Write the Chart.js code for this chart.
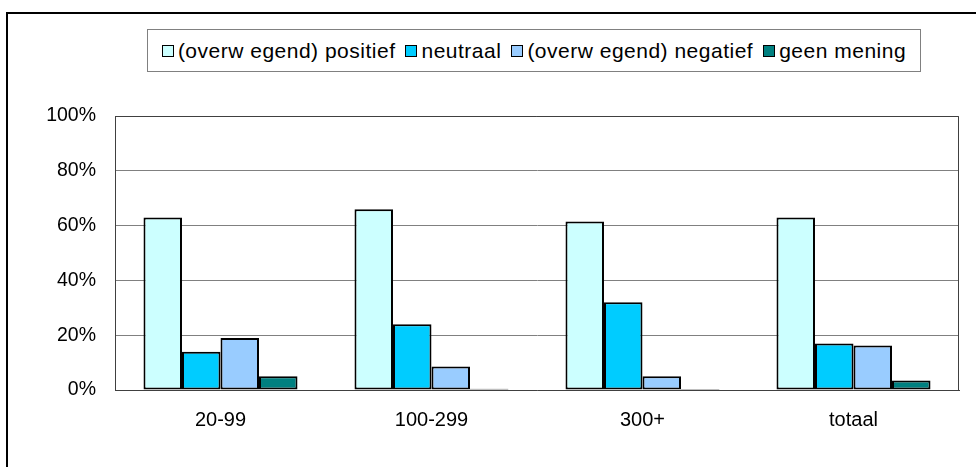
<!DOCTYPE html>
<html>
<head>
<meta charset="utf-8">
<script src="https://cdn.jsdelivr.net/npm/chart.js@4.4.1/dist/chart.umd.min.js"></script>
<style>
  html, body { margin: 0; padding: 0; background: #fff; overflow: hidden; }
  #wrap { position: relative; width: 976px; height: 467px; overflow: hidden; }
  #frame { position: absolute; left: 6px; top: 12px; width: 1000px; height: 500px;
           border: 2px solid #000; box-sizing: border-box; pointer-events: none; }
  #legend { position: absolute; left: 147px; top: 29px; width: 774px; height: 43px;
            border: 1px solid #808080; box-sizing: border-box; background: #fff;
            display: flex; align-items: center; justify-content: center;
            font-family: 'Liberation Sans', Arial, sans-serif; font-size: 21px;
            letter-spacing: 0.5px; color: #000; white-space: nowrap; }
  .item { display: flex; align-items: center; margin: 0 5px; }
  .sw { width: 10px; height: 10px; border: 1px solid #000; margin-right: 4px; }
  canvas { position: absolute; left: 0; top: 0; }
</style>
</head>
<body>
<div id="wrap">
  <canvas id="c" width="976" height="467"></canvas>
  <div id="frame"></div>
  <div id="legend"></div>
</div>
<script>
// Company size classes and the share of each opinion (percent)
const categories = ['20-99', '100-299', '300+', 'totaal'];
const seriesNames = ['(overw egend) positief', 'neutraal', '(overw egend) negatief', 'geen mening'];
const positief   = [63, 66, 61.5, 63];
const neutraal   = [14, 24, 32, 17];
const negatief   = [19, 8.6, 5, 16.2];
const geenMening = [5, 0.5, 0.4, 3.5];
const yTicks = [0, 20, 40, 60, 80, 100];

const colors = ['#CCFFFF', '#00CCFF', '#99CCFF', '#008080'];
const seriesValues = [positief, neutraal, negatief, geenMening];
const FONT = "'Liberation Sans', Arial, sans-serif";

const datasets = seriesNames.map((name, i) => ({
  label: name,
  data: seriesValues[i],
  backgroundColor: colors[i],
  borderColor: '#000',
  borderWidth: 2,
  borderSkipped: false,
  categoryPercentage: 0.73,
  barPercentage: 1
}));

// Top and right edges of the plot box
const plotFrame = {
  id: 'plotFrame',
  afterDraw(chart) {
    const { ctx, chartArea: a } = chart;
    ctx.save();
    ctx.strokeStyle = '#404040';
    ctx.lineWidth = 1;
    ctx.beginPath();
    ctx.moveTo(a.left, a.top + 0.5);
    ctx.lineTo(a.right - 0.5, a.top + 0.5);
    ctx.lineTo(a.right - 0.5, a.bottom);
    ctx.stroke();
    ctx.restore();
  }
};

const chart = new Chart(document.getElementById('c'), {
  type: 'bar',
  data: { labels: categories, datasets },
  plugins: [plotFrame],
  options: {
    responsive: false,
    devicePixelRatio: 1,
    animation: false,
    layout: { padding: { left: 0, top: 116, right: 17, bottom: 0 } },
    plugins: { legend: { display: false }, tooltip: { enabled: false } },
    scales: {
      x: {
        grid: { display: false, drawTicks: false },
        border: { display: true, color: '#404040', width: 1 },
        ticks: { color: '#000', font: { family: FONT, size: 20 }, padding: 18 },
        afterFit(scale) { scale.height = 77; }
      },
      y: {
        min: 0,
        max: 100,
        afterBuildTicks(scale) { scale.ticks = yTicks.map(v => ({ value: v })); },
        grid: { color: '#808080', lineWidth: 1, drawTicks: false },
        border: { display: true, color: '#404040', width: 1 },
        ticks: {
          color: '#000',
          font: { family: FONT, size: 19.5 },
          padding: 19,
          callback: v => v + '%'
        },
        afterFit(scale) { scale.width = 115; }
      }
    }
  }
});

// Legend row built from the chart's datasets
const legendEl = document.getElementById('legend');
chart.data.datasets.forEach(ds => {
  const item = document.createElement('span');
  item.className = 'item';
  const sw = document.createElement('span');
  sw.className = 'sw';
  sw.style.background = ds.backgroundColor;
  const txt = document.createElement('span');
  txt.textContent = ds.label;
  item.appendChild(sw);
  item.appendChild(txt);
  legendEl.appendChild(item);
});
</script>
</body>
</html>
